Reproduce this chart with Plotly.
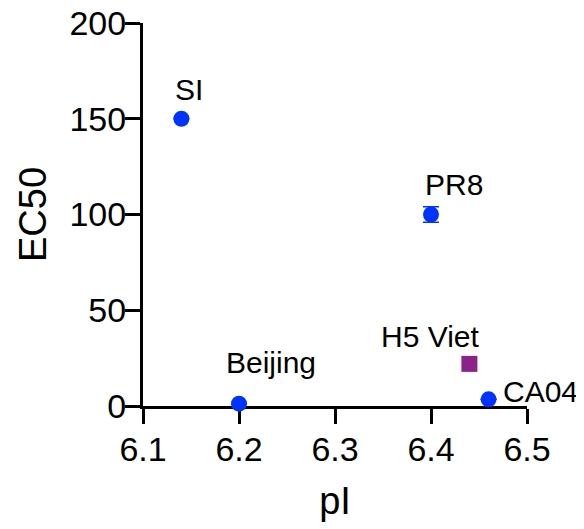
import plotly.graph_objects as go

names = ["SI", "Beijing", "PR8", "CA04"]
pI = [6.14, 6.2, 6.4, 6.46]
ec50 = [150, 1.2, 100, 3.5]
ec50_err = [0, 0, 4, 0]

h5_name = ["H5 Viet"]
h5_pI = [6.44]
h5_ec50 = [22]

x_ticks = [6.1, 6.2, 6.3, 6.4, 6.5]
y_ticks = [0, 50, 100, 150, 200]

FONT = "Liberation Sans, Arial, Helvetica, sans-serif"
BLUE = "#0033ff"
PURPLE = "#8b2189"

fig = go.Figure()
fig.add_trace(go.Scatter(
    x=pI, y=ec50, mode="markers",
    marker=dict(color=BLUE, size=16, symbol="circle", line=dict(width=0)),
    error_y=dict(type="data", array=ec50_err, visible=True, color=BLUE, thickness=1.5, width=8),
    cliponaxis=False, showlegend=False,
))
fig.add_trace(go.Scatter(
    x=h5_pI, y=h5_ec50, mode="markers",
    marker=dict(color=PURPLE, size=16, symbol="square", line=dict(width=0)),
    cliponaxis=False, showlegend=False,
))

# label offsets (pixels) relative to each point
offsets = {"SI": (8, 29), "Beijing": (32, 41), "PR8": (23, 30), "CA04": (52, 8)}
for n, x, y in zip(names, pI, ec50):
    dx, dy = offsets[n]
    fig.add_annotation(x=x, y=y, xref="x", yref="y", text=n, showarrow=False,
                       xshift=dx, yshift=dy, font=dict(family=FONT, size=30, color="black"))
for n, x, y in zip(h5_name, h5_pI, h5_ec50):
    fig.add_annotation(x=x, y=y, xref="x", yref="y", text=n, showarrow=False,
                       xshift=-39, yshift=27, font=dict(family=FONT, size=30, color="black"))

# page body has an 8px default margin, so the figure is offset by 8px
fig.update_layout(
    width=576, height=521,
    margin=dict(l=135, r=57, t=15, b=123),
    plot_bgcolor="white", paper_bgcolor="white",
    font=dict(family=FONT, color="black"),
)
fig.update_xaxes(
    range=[6.1, 6.5], tickvals=x_ticks, ticktext=[f"{v:.1f}" for v in x_ticks],
    showgrid=False, zeroline=False, showline=True, linecolor="black", linewidth=3,
    ticks="outside", ticklen=15, tickwidth=3, tickcolor="black",
    tickfont=dict(family=FONT, size=34, color="black"), ticklabelstandoff=-4,
    ticklabeloverflow="allow",
    title=dict(text="pI", font=dict(family=FONT, size=38, color="black"), standoff=21),
    layer="below traces", automargin=False,
)
fig.update_yaxes(
    range=[0, 200], tickvals=y_ticks,
    showgrid=False, zeroline=False, showline=True, linecolor="black", linewidth=3,
    ticks="outside", ticklen=15, tickwidth=3, tickcolor="black",
    tickfont=dict(family=FONT, size=34, color="black"), ticklabelstandoff=-8,
    ticklabeloverflow="allow",
    title=dict(text="EC50", font=dict(family=FONT, size=38, color="black"), standoff=12),
    layer="below traces", automargin=False,
)

fig.write_html("out.html")
